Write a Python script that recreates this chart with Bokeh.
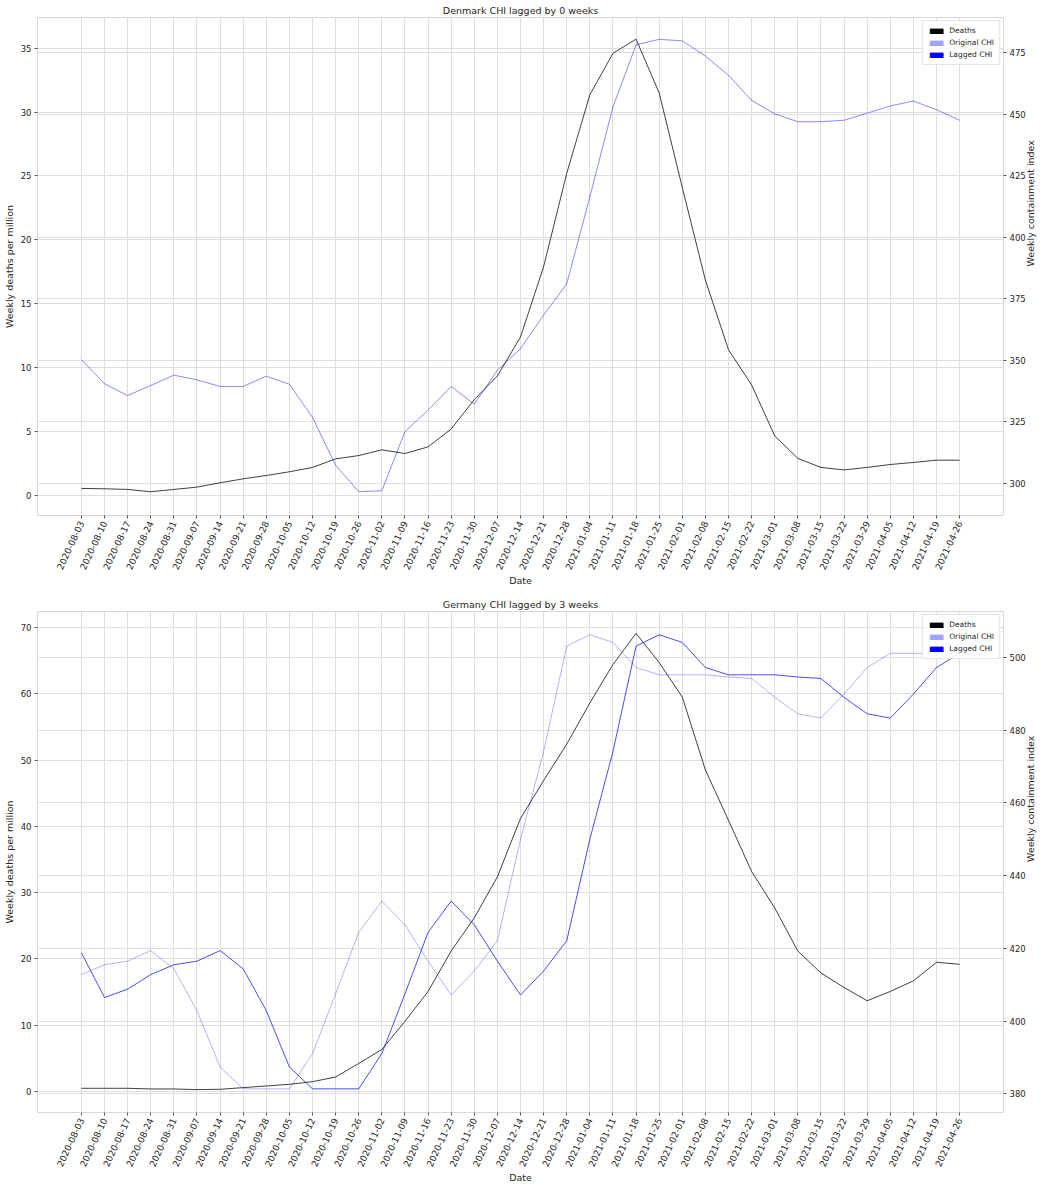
import math
from bokeh.plotting import figure
from bokeh.models import (Range1d, LinearAxis, Grid, SingleIntervalTicker, FixedTicker,
                          Legend, LegendItem)
from bokeh.layouts import column
from bokeh.embed import file_html
from bokeh.resources import INLINE

dates = ["2020-08-03", "2020-08-10", "2020-08-17", "2020-08-24", "2020-08-31",
         "2020-09-07", "2020-09-14", "2020-09-21", "2020-09-28", "2020-10-05",
         "2020-10-12", "2020-10-19", "2020-10-26", "2020-11-02", "2020-11-09",
         "2020-11-16", "2020-11-23", "2020-11-30", "2020-12-07", "2020-12-14",
         "2020-12-21", "2020-12-28", "2021-01-04", "2021-01-11", "2021-01-18",
         "2021-01-25", "2021-02-01", "2021-02-08", "2021-02-15", "2021-02-22",
         "2021-03-01", "2021-03-08", "2021-03-15", "2021-03-22", "2021-03-29",
         "2021-04-05", "2021-04-12", "2021-04-19", "2021-04-26"]

# Denmark (lag 0 weeks)
dk_deaths = [0.55, 0.52, 0.47, 0.29, 0.47, 0.65, 0.99, 1.3, 1.56, 1.85,
             2.19, 2.86, 3.12, 3.57, 3.28, 3.8, 5.2, 7.5, 9.35, 12.4,
             17.9, 25.2, 31.35, 34.6, 35.7, 31.5, 24.1, 16.85, 11.4, 8.65,
             4.66, 2.9, 2.19, 2.0, 2.19, 2.42, 2.58, 2.76, 2.76]
dk_chi = [350.2, 340.4, 335.6, 339.7, 343.9, 342.0, 339.3, 339.3, 343.5, 340.2,
          326.7, 307.3, 296.5, 296.9, 320.9, 329.7, 339.3, 332.1, 345.9, 354.7,
          368.3, 381.1, 416.4, 453.0, 478.3, 480.5, 479.9, 473.7, 465.9, 455.7,
          450.2, 447.0, 447.0, 447.6, 450.5, 453.4, 455.4, 451.9, 447.6]
dk_chi_lagged = [350.2, 340.4, 335.6, 339.7, 343.9, 342.0, 339.3, 339.3, 343.5, 340.2,
                 326.7, 307.3, 296.5, 296.9, 320.9, 329.7, 339.3, 332.1, 345.9, 354.7,
                 368.3, 381.1, 416.4, 453.0, 478.3, 480.5, 479.9, 473.7, 465.9, 455.7,
                 450.2, 447.0, 447.0, 447.6, 450.5, 453.4, 455.4, 451.9, 447.6]

# Germany (lag 3 weeks)
de_deaths = [0.5, 0.5, 0.5, 0.4, 0.4, 0.3, 0.35, 0.6, 0.85, 1.1,
             1.5, 2.2, 4.25, 6.35, 10.6, 15.1, 21.2, 26.2, 32.4, 41.2,
             46.9, 52.4, 58.6, 64.4, 69.1, 64.7, 59.5, 48.5, 40.9, 33.2,
             27.7, 21.2, 17.9, 15.7, 13.7, 15.1, 16.7, 19.5, 19.2]
de_chi = [412.8, 415.5, 416.5, 419.4, 414.4, 402.9, 387.4, 381.4, 381.4, 381.4,
          391.1, 407.5, 424.4, 433.0, 426.5, 416.5, 407.2, 413.8, 422.1, 450.0,
          474.1, 503.1, 506.2, 504.1, 497.2, 495.2, 495.2, 495.2, 494.6, 494.2,
          489.0, 484.5, 483.3, 489.9, 497.2, 501.1, 501.1, 501.1, 501.1]
de_chi_lagged = [418.8, 406.5, 408.8, 412.8, 415.5, 416.5, 419.4, 414.4, 402.9, 387.4,
                 381.4, 381.4, 381.4, 391.1, 407.5, 424.4, 433.0, 426.5, 416.5, 407.2,
                 413.8, 422.1, 450.0, 474.1, 503.1, 506.2, 504.1, 497.2, 495.2, 495.2,
                 495.2, 494.6, 494.2, 489.0, 484.5, 483.3, 489.9, 497.2, 501.1]

legend_labels = ["Deaths", "Original CHI", "Lagged CHI"]
legend_colors = ["black", "#a3a3ff", "blue"]

FONT = "DejaVu Sans"
TXT = "#262626"
GRID = "#dedede"


def make_panel(title, deaths, chi, chi_lag, left_rng, right_rng, left_int, right_int,
               frame_h, lag_alpha, orig_alpha, bottom_border):
    x = list(range(len(dates)))
    p = figure(frame_width=966, frame_height=frame_h,
               x_range=Range1d(-1.9, len(dates) - 1 + 1.9),
               y_range=Range1d(*left_rng),
               output_backend="svg", toolbar_location=None,
               min_border_left=33, min_border_right=36, min_border_top=0,
               min_border_bottom=bottom_border)
    p.title.text = title
    p.title.align = "center"
    p.title.text_font = FONT
    p.title.text_font_size = "9.5px"
    p.title.text_font_style = "normal"
    p.title.text_color = TXT
    p.title.standoff = 4
    p.title.offset = 0
    p.outline_line_color = "#d8d8d8"
    p.background_fill_color = "white"

    p.extra_y_ranges = {"chi": Range1d(*right_rng)}
    raxis = LinearAxis(y_range_name="chi", axis_label="Weekly containment index",
                       ticker=SingleIntervalTicker(interval=right_int))
    p.add_layout(raxis, "right")

    for ax in [p.xaxis[0], p.yaxis[0], raxis]:
        ax.axis_line_color = None
        ax.major_tick_line_color = "#555555"
        ax.major_tick_out = 3
        ax.major_tick_in = 0
        ax.minor_tick_line_color = None
        ax.major_label_text_font = FONT
        ax.major_label_text_font_size = "8.5px"
        ax.major_label_text_color = TXT
        ax.axis_label_text_font = FONT
        ax.axis_label_text_font_size = "9.5px"
        ax.axis_label_text_font_style = "normal"
        ax.axis_label_text_color = TXT
        ax.major_label_standoff = 2
        ax.axis_label_standoff = 3
    raxis.axis_label_orientation = math.pi / 2
    raxis.axis_label_standoff = 2
    p.yaxis[0].ticker = SingleIntervalTicker(interval=left_int)
    p.yaxis[0].axis_label = "Weekly deaths per million"
    p.xaxis[0].axis_label = "Date"
    p.xaxis[0].ticker = FixedTicker(ticks=x)
    p.xaxis[0].major_label_overrides = {i: d for i, d in enumerate(dates)}
    p.xaxis[0].major_label_orientation = math.radians(65)
    p.xaxis[0].major_label_text_font_size = "9px"
    p.xaxis[0].major_label_standoff = 3
    p.xaxis[0].axis_label_standoff = 0

    p.xgrid.grid_line_color = GRID
    p.xgrid.ticker = FixedTicker(ticks=x)
    p.ygrid.grid_line_color = GRID
    p.ygrid.ticker = SingleIntervalTicker(interval=left_int)
    rgrid = Grid(dimension=1, ticker=SingleIntervalTicker(interval=right_int),
                 y_range_name="chi", grid_line_color=GRID)
    p.add_layout(rgrid)

    p.line(x, deaths, line_color="black", line_alpha=0.75, line_width=1)
    p.line(x, chi, line_color="blue", line_alpha=orig_alpha, line_width=1, y_range_name="chi")
    p.line(x, chi_lag, line_color="blue", line_alpha=lag_alpha, line_width=1, y_range_name="chi")

    items = []
    for lab, col in zip(legend_labels, legend_colors):
        r = p.quad(left=[math.nan], right=[math.nan], top=[math.nan], bottom=[math.nan],
                   fill_color=col, line_color=col)
        items.append(LegendItem(label=lab, renderers=[r]))
    leg = Legend(items=items, location="top_right")
    leg.label_text_font = FONT
    leg.label_text_font_size = "7.5px"
    leg.label_text_color = TXT
    leg.glyph_width = 16
    leg.glyph_height = 6
    leg.label_height = 9
    leg.label_standoff = 5
    leg.spacing = 3
    leg.padding = 5
    leg.margin = 3
    leg.border_line_color = "#cccccc"
    leg.border_line_width = 1
    leg.background_fill_alpha = 0.9
    p.add_layout(leg)
    return p


p1 = make_panel("Denmark CHI lagged by 0 weeks", dk_deaths, dk_chi, dk_chi_lagged,
                (-1.57, 37.4), (286.8, 489.4), 5, 25, 498, 0.2, 0.3, 79)
p2 = make_panel("Germany CHI lagged by 3 weeks", de_deaths, de_chi, de_chi_lagged,
                (-3.15, 72.4), (374.9, 512.6), 10, 20, 501, 0.7, 0.3, 60)

layout = column(p1, p2, spacing=0)
open("out.html", "w").write(file_html(layout, INLINE))
